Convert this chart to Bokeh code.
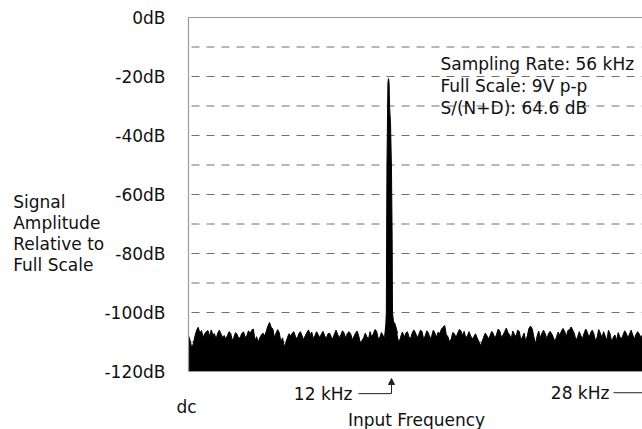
from bokeh.plotting import figure
from bokeh.models import Range1d, FixedTicker, LinearAxis, Label, Arrow, NormalHead
from bokeh.embed import file_html
from bokeh.resources import INLINE

FONT = "DejaVu Sans"
FS = "17px"
TXT = "#111111"

# ---- data -------------------------------------------------------------
bin_khz = 0.2
# spectrum value at each 0.2 kHz bin (dB re full scale)
noise_db = [
    -107.8, -112.0, -108.0, -105.0, -106.1, -107.2, -106.1, -105.9, -107.2, -107.0,
    -107.2, -107.8, -107.8, -107.0, -108.4, -107.4, -108.2, -106.6, -107.8, -107.2,
    -105.6, -108.2, -108.6, -107.0, -106.3, -103.4, -105.6, -107.0, -106.9, -108.6,
    -110.4, -107.2, -107.0, -108.2, -107.2, -107.8, -107.9, -105.9, -106.6, -107.8,
    -107.5, -107.2, -107.9, -107.2, -108.2, -107.2, -107.4, -107.5, -107.0, -107.0,
    -107.2, -108.2, -106.3, -110.4, -108.6, -108.2, -106.5, -107.2, -106.3, -108.4,
    -107.8, -106.5, -106.0, -104.4, -106.6, -110.0, -106.6, -107.0, -108.2, -106.9,
    -106.9, -107.5, -106.4, -107.9, -107.0, -107.9, -107.0, -106.6, -105.6, -104.4,
    -108.2, -109.0, -107.2, -107.0, -106.2, -106.4, -107.9, -107.9, -108.2, -108.6,
    -111.2, -108.4, -107.8, -107.8, -107.2, -107.4, -106.3, -107.6, -105.3, -107.5,
    -106.3, -108.2, -106.4, -108.2, -109.9, -105.3, -105.6, -110.6, -106.3, -107.0,
    -107.2, -107.2, -107.2, -109.9, -106.6, -106.3, -106.4, -106.1, -104.9, -107.2,
    -108.2, -107.9, -107.0, -106.7, -106.9, -107.2, -108.4, -107.0, -106.5, -109.5,
    -107.2, -108.4, -109.5, -108.2, -107.6, -107.0, -107.2, -107.6, -107.4, -107.3,
    -107.4,
]
# spectrum value half way between bins
noise_mid_db = [
    -109.5, -110.5, -106.0, -107.0, -108.5, -106.5, -108.0, -107.5, -109.0, -106.0,
    -108.5, -109.0, -106.5, -109.5, -106.8, -109.0, -107.0, -108.5, -106.2, -106.0,
    -109.5, -110.0, -107.5, -108.0, -104.5, -105.0, -108.5, -105.8, -110.0, -111.5,
    -108.5, -108.0, -106.5, -109.0, -106.5, -109.2, -106.8, -107.5, -108.8, -106.5,
    -108.6, -106.4, -108.8, -107.0, -109.0, -106.0, -108.6, -106.2, -108.8, -106.5,
    -109.2, -107.0, -108.0, -109.5, -107.0, -109.0, -108.4, -105.8, -108.9, -106.8,
    -108.5, -107.5, -105.0, -105.5, -108.8, -108.0, -108.5, -106.5, -108.8, -105.9,
    -108.6, -106.0, -109.0, -106.2, -108.9, -106.0, -108.4, -107.2, -105.0, -107.5,
    -110.0, -106.8, -108.6, -105.8, -107.8, -108.6, -106.5, -109.0, -107.2, -109.8,
    -110.0, -107.0, -109.0, -106.4, -108.8, -105.6, -108.5, -106.5, -106.8, -108.9,
    -107.4, -106.0, -109.4, -107.0, -107.8, -104.6, -108.2, -108.0, -108.6, -106.0,
    -108.9, -106.4, -108.4, -108.2, -107.8, -105.4, -108.2, -105.8, -106.0, -109.5,
    -106.5, -108.8, -105.6, -108.6, -106.0, -109.6, -105.8, -108.6, -108.0, -106.0,
    -110.0, -107.6, -106.8, -109.0, -106.2, -108.8, -106.0, -109.0, -106.5, -108.6,
]

peak_khz = [12.10, 12.17, 12.20, 12.24, 12.30, 12.335, 12.37, 12.40, 12.46, 12.52,
            12.56, 12.58, 12.64, 12.75, 12.89]
peak_db = [-108.0, -104.0, -100.0, -50.0, -22.0, -20.7, -22.0, -30.0, -36.0, -52.0,
           -75.0, -100.0, -103.0, -104.0, -107.0]

y_ticks = [0, -20, -40, -60, -80, -100, -120]
y_tick_labels = ["0dB", "-20dB", "-40dB", "-60dB", "-80dB", "-100dB", "-120dB"]
grid_db = [-10, -20, -30, -40, -50, -60, -70, -80, -90, -100, -110]

info_lines = ["Sampling Rate: 56 kHz", "Full Scale: 9V p-p", "S/(N+D): 64.6 dB"]
ylabel_lines = ["Signal", "Amplitude", "Relative to", "Full Scale"]
x_min, x_max = 0, 28          # kHz (dc .. 28 kHz)
y_min, y_max = -120, 0        # dB
signal_khz_label = "12 kHz"
end_khz_label = "28 kHz"
dc_label = "dc"
x_title = "Input Frequency"

# combined spectrum table built from the arrays above
spec_x, spec_y = [], []
for k, v in enumerate(noise_db):
    spec_x.append(round(k * bin_khz, 3))
    spec_y.append(v)
    if k < len(noise_mid_db):
        spec_x.append(round(k * bin_khz + bin_khz / 2, 3))
        spec_y.append(noise_mid_db[k])

# ---- figure: the frame covers the whole canvas, axes are fixed inside ---
p = figure(width=642, height=429, output_backend="svg", toolbar_location=None,
           x_range=Range1d(-11.595, 28.0), y_range=Range1d(-139.66, 5.763),
           min_border_left=0, min_border_right=0, min_border_top=0,
           min_border_bottom=0)
p.outline_line_color = None
p.background_fill_color = "white"
p.border_fill_color = "white"
p.xgrid.visible = False
p.ygrid.visible = False

AX = "#9a9a9a"
p.yaxis.fixed_location = x_min
p.yaxis.bounds = (y_min, y_max)
p.yaxis.ticker = FixedTicker(ticks=y_ticks)
p.yaxis.major_label_overrides = {t: l for t, l in zip(y_ticks, y_tick_labels)}
p.yaxis.major_tick_line_color = None
p.yaxis.minor_tick_line_color = None
p.yaxis.axis_line_color = AX
p.yaxis.axis_line_width = 1.2
p.yaxis.major_label_standoff = 17
p.yaxis.major_label_text_font = FONT
p.yaxis.major_label_text_font_size = FS
p.yaxis.major_label_text_color = TXT

p.xaxis.fixed_location = y_min
p.xaxis.bounds = (x_min, x_max)
p.xaxis.ticker = FixedTicker(ticks=[])
p.xaxis.major_tick_line_color = None
p.xaxis.minor_tick_line_color = None
p.xaxis.major_label_text_font_size = "0px"
p.xaxis.axis_line_color = AX
p.xaxis.axis_line_width = 1.2

top = LinearAxis(ticker=FixedTicker(ticks=[]), axis_line_color=AX, axis_line_width=1.2,
                 major_tick_line_color=None, minor_tick_line_color=None,
                 major_label_text_font_size="0px", fixed_location=y_max,
                 bounds=(x_min, x_max))
p.add_layout(top, "above")

# dashed horizontal grid, limited to the plotting area
p.segment(x0=[x_min] * len(grid_db), x1=[x_max] * len(grid_db), y0=grid_db, y1=grid_db,
          line_color="#707070", line_width=1, line_dash="8 7", line_dash_offset=-3)

# spectrum
p.varea(x=spec_x, y1=y_min, y2=spec_y, fill_color="black")
p.line(spec_x, spec_y, line_color="black", line_width=1)
p.varea(x=peak_khz, y1=y_min, y2=peak_db, fill_color="black")
p.line(peak_khz, peak_db, line_color="black", line_width=1)

# info text
for i, t in enumerate(info_lines):
    p.add_layout(Label(x=15.54, y=-15.7 - 7.5 * i, text=t, text_font=FONT,
                       text_font_size=FS, text_color=TXT,
                       text_align="left", text_baseline="alphabetic"))

# y label block
for i, t in enumerate(ylabel_lines):
    p.add_layout(Label(x=-10.81, y=-62.5 - 7.1 * i, text=t, text_font=FONT,
                       text_font_size=FS, text_color=TXT,
                       text_align="left", text_baseline="alphabetic"))

# x annotations
p.add_layout(Label(x=-0.12, y=-131.9, text=dc_label, text_font=FONT, text_font_size=FS,
                   text_color=TXT, text_align="center", text_baseline="middle"))
p.add_layout(Label(x=10.11, y=-127.5, text=signal_khz_label, text_font=FONT,
                   text_font_size=FS, text_color=TXT, text_align="right",
                   text_baseline="middle"))
p.add_layout(Arrow(x_start=10.48, y_start=-127.5, x_end=12.52, y_end=-127.5,
                   end=None, line_color="#222222", line_width=1))
p.add_layout(Arrow(x_start=12.52, y_start=-127.5, x_end=12.52, y_end=-122.4,
                   end=NormalHead(size=6, fill_color="#222222", line_color="#222222"),
                   line_color="#222222", line_width=1))
p.add_layout(Label(x=25.96, y=-127.2, text=end_khz_label, text_font=FONT,
                   text_font_size=FS, text_color=TXT, text_align="right",
                   text_baseline="middle"))
p.add_layout(Arrow(x_start=26.21, y_start=-127.2, x_end=x_max, y_end=-127.2,
                   end=None, line_color="#222222", line_width=1))
p.add_layout(Label(x=9.83, y=-136.3, text=x_title, text_font=FONT,
                   text_font_size=FS, text_color=TXT, text_align="left",
                   text_baseline="alphabetic"))

open("out.html", "w").write(file_html(p, INLINE))
